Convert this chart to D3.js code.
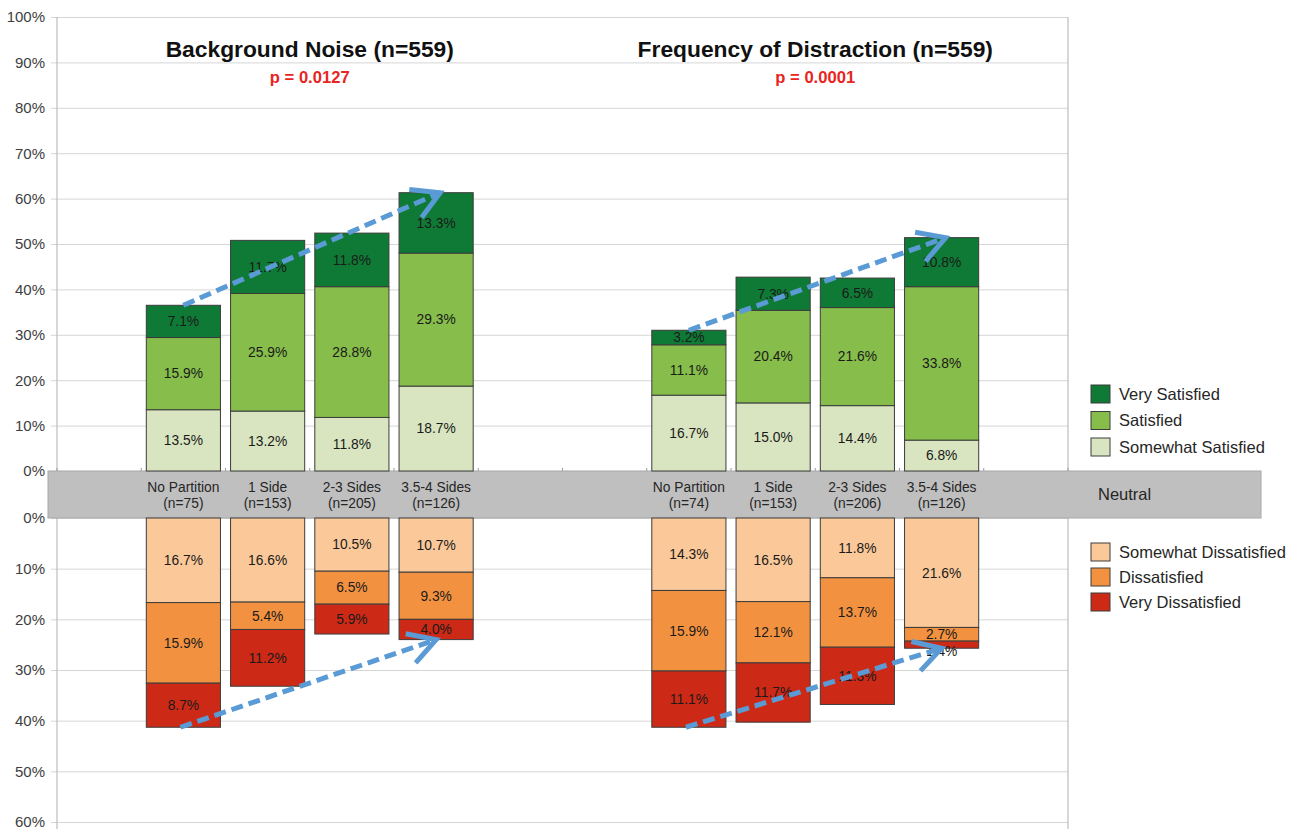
<!DOCTYPE html>
<html>
<head>
<meta charset="utf-8">
<script src="https://cdn.jsdelivr.net/npm/d3@7"></script>
<style>
  body { margin: 0; background: #fff; }
  text { font-family: "Liberation Sans", Arial, sans-serif; }
</style>
</head>
<body>
<svg id="chart" width="1300" height="829"></svg>
<script>
// ---- data -------------------------------------------------------------
const categories = ["No Partition", "1 Side", "2-3 Sides", "3.5-4 Sides"];
const noiseCounts = [75, 153, 205, 126];
const distractionCounts = [74, 153, 206, 126];

// satisfied side, stacked upward from the neutral band
const noiseSomewhatSatisfied = [13.5, 13.2, 11.8, 18.7];
const noiseSatisfied         = [15.9, 25.9, 28.8, 29.3];
const noiseVerySatisfied     = [7.1, 11.7, 11.8, 13.3];
// dissatisfied side, stacked downward from the neutral band
const noiseSomewhatDissatisfied = [16.7, 16.6, 10.5, 10.7];
const noiseDissatisfied         = [15.9, 5.4, 6.5, 9.3];
const noiseVeryDissatisfied     = [8.7, 11.2, 5.9, 4.0];

const distractionSomewhatSatisfied = [16.7, 15.0, 14.4, 6.8];
const distractionSatisfied         = [11.1, 20.4, 21.6, 33.8];
const distractionVerySatisfied     = [3.2, 7.3, 6.5, 10.8];
const distractionSomewhatDissatisfied = [14.3, 16.5, 11.8, 21.6];
const distractionDissatisfied         = [15.9, 12.1, 13.7, 2.7];
const distractionVeryDissatisfied     = [11.1, 11.7, 11.3, 1.4];

const upperTicks = [0, 10, 20, 30, 40, 50, 60, 70, 80, 90, 100];
const lowerTicks = [0, 10, 20, 30, 40, 50, 60];

const satisfiedLevels = ["Very Satisfied", "Satisfied", "Somewhat Satisfied"];
const dissatisfiedLevels = ["Somewhat Dissatisfied", "Dissatisfied", "Very Dissatisfied"];
const levelColors = {
  "Very Satisfied": "#0f7a35",
  "Satisfied": "#86bd4b",
  "Somewhat Satisfied": "#d8e5c0",
  "Somewhat Dissatisfied": "#fbc999",
  "Dissatisfied": "#f29240",
  "Very Dissatisfied": "#cc2a17"
};

const panels = [
  {
    title: "Background Noise (n=559)", p: "p = 0.0127", firstSlot: 1, counts: noiseCounts,
    up:   [["Somewhat Satisfied", noiseSomewhatSatisfied], ["Satisfied", noiseSatisfied], ["Very Satisfied", noiseVerySatisfied]],
    down: [["Somewhat Dissatisfied", noiseSomewhatDissatisfied], ["Dissatisfied", noiseDissatisfied], ["Very Dissatisfied", noiseVeryDissatisfied]]
  },
  {
    title: "Frequency of Distraction (n=559)", p: "p = 0.0001", firstSlot: 7, counts: distractionCounts,
    up:   [["Somewhat Satisfied", distractionSomewhatSatisfied], ["Satisfied", distractionSatisfied], ["Very Satisfied", distractionVerySatisfied]],
    down: [["Somewhat Dissatisfied", distractionSomewhatDissatisfied], ["Dissatisfied", distractionDissatisfied], ["Very Dissatisfied", distractionVeryDissatisfied]]
  }
];

// ---- layout -----------------------------------------------------------
const svg = d3.select("#chart");
const plotLeft = 57, plotRight = 1068;
const upperTop = 17, upperBottom = 471;
const bandTop = 471, bandBottom = 518;
const lowerBottom = 829;

const slotCount = 12;
const x = d3.scaleBand()
  .domain(d3.range(slotCount))
  .range([plotLeft, plotRight])
  .paddingInner(0.12)
  .paddingOuter(0.06);

const yUp = d3.scaleLinear().domain([0, 100]).range([upperBottom, upperTop]);
const yDown = d3.scaleLinear().domain([0, 60]).range([bandBottom, 822]);

const gridColor = "#d6d6d6";
const axisColor = "#bdbdbd";
const fmt = v => v.toFixed(1) + "%";

// ---- axes & grid ----
function styleAxis(g) {
  g.select(".domain").remove();
  g.selectAll(".tick line").attr("stroke", gridColor).attr("x1", -6);
  g.selectAll(".tick text").attr("fill", "#404040").attr("font-size", 15);
}
svg.append("g")
  .attr("transform", `translate(${plotLeft},0)`)
  .call(d3.axisLeft(yUp).tickValues(upperTicks).tickFormat(d => d + "%")
        .tickSize(-(plotRight - plotLeft)).tickPadding(12))
  .call(styleAxis);
svg.append("g")
  .attr("transform", `translate(${plotLeft},0)`)
  .call(d3.axisLeft(yDown).tickValues(lowerTicks).tickFormat(d => d + "%")
        .tickSize(-(plotRight - plotLeft)).tickPadding(12))
  .call(styleAxis);

// plot frame lines
svg.append("line").attr("x1", plotLeft).attr("x2", plotLeft).attr("y1", upperTop).attr("y2", lowerBottom)
  .attr("stroke", axisColor).attr("stroke-width", 1.2);
svg.append("line").attr("x1", plotRight).attr("x2", plotRight).attr("y1", upperTop).attr("y2", lowerBottom)
  .attr("stroke", axisColor).attr("stroke-width", 1.2);

// slot boundary ticks on the category axis
const boundaries = d3.range(slotCount + 1).map(i => plotLeft + i * x.step());
svg.append("g").selectAll("line").data(boundaries).join("line")
  .attr("x1", d => d).attr("x2", d => d)
  .attr("y1", upperBottom - 3).attr("y2", upperBottom + 3)
  .attr("stroke", "#9a9a9a");

// ---- neutral band ----
svg.append("rect")
  .attr("x", 48).attr("y", bandTop).attr("width", 1261 - 48).attr("height", bandBottom - bandTop)
  .attr("fill", "#bfbfbf").attr("stroke", "#a8a8a8").attr("stroke-width", 1);
svg.append("text").attr("x", 1098).attr("y", (bandTop + bandBottom) / 2).attr("dy", "0.35em")
  .attr("font-size", 16.5).attr("fill", "#262626").text("Neutral");

// ---- panels ----
const bw = x.bandwidth();
const arrowColor = "#5b9bd5";

function arrow(g, x1, y1, x2, y2) {
  g.append("line")
    .attr("x1", x1).attr("y1", y1).attr("x2", x2).attr("y2", y2)
    .attr("stroke", arrowColor).attr("stroke-width", 5)
    .attr("stroke-dasharray", "12,6");
  const ang = Math.atan2(y2 - y1, x2 - x1);
  const len = 31, spread = 0.52;
  const a1 = ang + Math.PI - spread, a2 = ang + Math.PI + spread;
  g.append("path")
    .attr("d", `M${x2 + len * Math.cos(a1)},${y2 + len * Math.sin(a1)} L${x2},${y2} L${x2 + len * Math.cos(a2)},${y2 + len * Math.sin(a2)}`)
    .attr("fill", "none").attr("stroke", arrowColor).attr("stroke-width", 5)
    .attr("stroke-linejoin", "miter");
}

panels.forEach(panel => {
  const g = svg.append("g");
  const slots = categories.map((c, i) => panel.firstSlot + i);
  const groupCenter = (x(slots[0]) + x(slots[slots.length - 1]) + bw) / 2;

  g.append("text").attr("x", groupCenter).attr("y", 57).attr("text-anchor", "middle")
    .attr("font-size", 22.8).attr("font-weight", "bold").attr("fill", "#111").text(panel.title);
  g.append("text").attr("x", groupCenter).attr("y", 83).attr("text-anchor", "middle")
    .attr("font-size", 16.6).attr("font-weight", "bold").attr("fill", "#e8251f").text(panel.p);

  const upTotals = [], downTotals = [];
  categories.forEach((cat, i) => {
    const bx = x(slots[i]);
    const cx = bx + bw / 2;
    // upper stack
    let acc = 0;
    panel.up.forEach(([level, vals]) => {
      const v = vals[i];
      g.append("rect").attr("x", bx).attr("width", bw)
        .attr("y", yUp(acc + v)).attr("height", yUp(acc) - yUp(acc + v))
        .attr("fill", levelColors[level]).attr("stroke", "#3c3c3c").attr("stroke-width", 1);
      g.append("text").attr("x", cx).attr("y", yUp(acc + v / 2)).attr("dy", "0.35em")
        .attr("text-anchor", "middle").attr("font-size", 13.8).attr("fill", "#1a1a1a").text(fmt(v));
      acc += v;
    });
    upTotals.push(acc);
    // lower stack; very thin segments carry their label on their outer edge
    acc = 0;
    panel.down.forEach(([level, vals]) => {
      const v = vals[i];
      g.append("rect").attr("x", bx).attr("width", bw)
        .attr("y", yDown(acc)).attr("height", yDown(acc + v) - yDown(acc))
        .attr("fill", levelColors[level]).attr("stroke", "#3c3c3c").attr("stroke-width", 1);
      const labelAt = v < 2 ? acc + v + 0.5 : acc + v / 2;
      g.append("text").attr("x", cx).attr("y", yDown(labelAt)).attr("dy", "0.35em")
        .attr("text-anchor", "middle").attr("font-size", 13.8).attr("fill", "#1a1a1a").text(fmt(v));
      acc += v;
    });
    downTotals.push(acc);
    // category label inside the neutral band
    g.append("text").attr("x", cx).attr("y", 492).attr("text-anchor", "middle")
      .attr("font-size", 13.8).attr("fill", "#262626").text(cat);
    g.append("text").attr("x", cx).attr("y", 508).attr("text-anchor", "middle")
      .attr("font-size", 13.8).attr("fill", "#262626").text(`(n=${panel.counts[i]})`);
  });

  // trend arrows from first to last category
  const first = 0, last = categories.length - 1;
  const xFirst = x(slots[first]) + bw / 2, xLast = x(slots[last]) + bw / 2;
  arrow(g, xFirst, yUp(upTotals[first]), xLast + 4, yUp(upTotals[last]));
  arrow(g, xFirst - 3, yDown(downTotals[first]), xLast, yDown(downTotals[last]));
});

// ---- legend ----
const legend = svg.append("g");
function legendItem(level, y) {
  legend.append("rect").attr("x", 1091).attr("y", y).attr("width", 19).attr("height", 18)
    .attr("fill", levelColors[level]).attr("stroke", "#3c3c3c").attr("stroke-width", 1);
  legend.append("text").attr("x", 1119).attr("y", y + 9).attr("dy", "0.35em")
    .attr("font-size", 16.5).attr("fill", "#262626").text(level);
}
satisfiedLevels.forEach((lv, i) => legendItem(lv, 385 + i * 26.5));
dissatisfiedLevels.forEach((lv, i) => legendItem(lv, 543 + i * 25));
</script>
</body>
</html>
